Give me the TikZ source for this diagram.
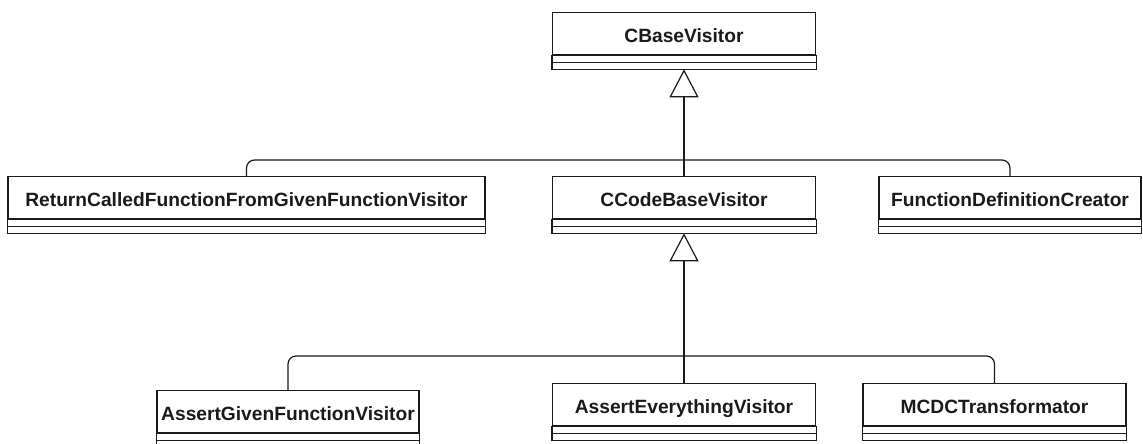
\documentclass[tikz,border=0pt]{standalone}
\usepackage{fontspec}
\setmainfont{Liberation Sans}
\usetikzlibrary{arrows.meta,calc}

\definecolor{ink}{HTML}{1A1A1A}

\tikzset{
  classtitle/.style={draw=ink, line width=1.3pt, fill=white, minimum height=42pt,
    inner sep=0pt, anchor=north, text=ink, text height=17pt, text depth=0pt,
    font=\bfseries\fontsize{19.2}{22}\selectfont},
  classline/.style={draw=ink, line width=1.3pt},
  link/.style={draw=ink, line width=1.2pt, rounded corners=8pt},
  inherit/.style={draw=ink, line width=1.2pt,
    -{Triangle[open, length=28pt, width=29pt]}},
}

% a UML class: title compartment plus two empty compartments
% #1 name, #2 centre x, #3 top y, #4 width, #5 title
\newcommand\classbox[5]{%
  \node[classtitle, minimum width=#4pt] (#1) at (#2,#3) {#5};
  \draw[classline] (#1.south west) rectangle ($(#1.south east)+(0,-7pt)$);
  \draw[classline] ($(#1.south west)+(0,-7pt)$) rectangle ($(#1.south east)+(0,-14pt)$);
  \coordinate (#1-b) at ($(#1.south)+(0,-14pt)$);
}

\begin{document}
\begin{tikzpicture}[x=1pt, y=-1pt]
  \useasboundingbox[fill=white] (0,0) rectangle (1143,444);

  \classbox{cbase}{684}{12}{263}{CBaseVisitor}
  \classbox{rcf}{246.5}{176}{477}{ReturnCalledFunctionFromGivenFunctionVisitor}
  \classbox{ccode}{684}{176}{263}{CCodeBaseVisitor}
  \classbox{fdc}{1010}{176}{262}{FunctionDefinitionCreator}
  \classbox{agf}{288}{390}{262}{AssertGivenFunctionVisitor}
  \classbox{aev}{684}{383}{263}{AssertEverythingVisitor}
  \classbox{mcdc}{994.5}{383}{263}{MCDCTransformator}

  \coordinate (j1) at (684,160);
  \coordinate (j2) at (684,356);

  \draw[link] (rcf.north) |- (j1);
  \draw[link] (fdc.north) |- (j1);
  \draw[inherit] (ccode.north) -- (cbase-b);

  \draw[link] (agf.north) |- (j2);
  \draw[link] (mcdc.north) |- (j2);
  \draw[inherit] (aev.north) -- (ccode-b);
\end{tikzpicture}
\end{document}
